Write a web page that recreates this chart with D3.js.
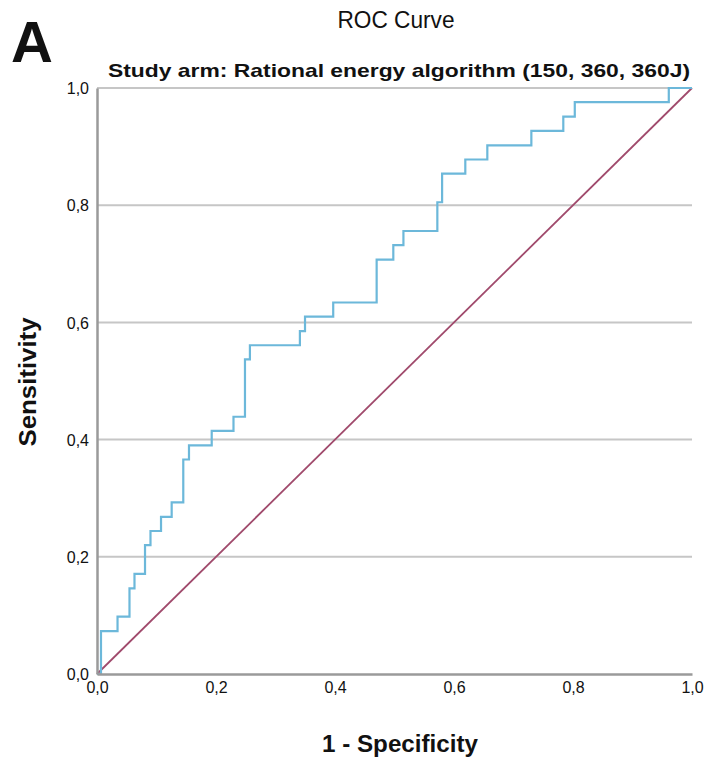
<!DOCTYPE html>
<html>
<head>
<meta charset="utf-8">
<script src="https://cdn.jsdelivr.net/npm/d3@7"></script>
<style>
  html, body { margin: 0; padding: 0; background: #fff; }
  svg text { font-family: "Liberation Sans", Arial, sans-serif; fill: #111; }
</style>
</head>
<body>
<svg id="chart" width="710" height="760"></svg>
<script>
// ---- data ----
const fpr = [0, 0.0067, 0.0345, 0.0546, 0.063, 0.0807, 0.0899, 0.1076, 0.1255, 0.145, 0.1546,
             0.1928, 0.2294, 0.2487, 0.257, 0.341, 0.3496, 0.397, 0.470, 0.498, 0.515,
             0.572, 0.580, 0.619, 0.656, 0.730, 0.7837, 0.803, 0.961, 1.0];
const tpr = [0, 0.073, 0.098, 0.146, 0.171, 0.220, 0.244, 0.268, 0.293, 0.366, 0.390,
             0.415, 0.439, 0.537, 0.561, 0.585, 0.610, 0.634, 0.707, 0.732, 0.756,
             0.805, 0.854, 0.878, 0.902, 0.927, 0.951, 0.976, 1.0, 1.0];
const refLine = [[0, 0], [1, 1]];
const tickValues = [0, 0.2, 0.4, 0.6, 0.8, 1.0];
const tickLabels = ["0,0", "0,2", "0,4", "0,6", "0,8", "1,0"];

const svg = d3.select("#chart");
const margin = {left: 97, right: 18, top: 88, bottom: 86};
const W = 710, H = 760;
const x = d3.scaleLinear().domain([0, 1]).range([margin.left, W - margin.right]);
const y = d3.scaleLinear().domain([0, 1]).range([H - margin.bottom, margin.top]);

// gridlines
svg.append("g")
  .selectAll("line").data(tickValues.slice(1)).join("line")
  .attr("x1", x(0)).attr("x2", x(1))
  .attr("y1", d => y(d)).attr("y2", d => y(d))
  .attr("stroke", "#c6c6c6").attr("stroke-width", 2);

// reference diagonal
svg.append("path")
  .datum(refLine)
  .attr("d", d3.line().x(d => x(d[0])).y(d => y(d[1])))
  .attr("fill", "none").attr("stroke", "#a04a6c").attr("stroke-width", 1.8);

// ROC curve
const pts = fpr.map((f, i) => [f, tpr[i]]);
svg.append("path")
  .datum(pts)
  .attr("d", d3.line().x(d => x(d[0])).y(d => y(d[1])).curve(d3.curveStepAfter))
  .attr("fill", "none").attr("stroke", "#6cb8da").attr("stroke-width", 2.2);

// axes
const fmt = (d) => tickLabels[tickValues.indexOf(d)];
const yAxis = svg.append("g").attr("transform", `translate(${x(0)},0)`)
  .call(d3.axisLeft(y).tickValues(tickValues).tickFormat(fmt).tickSize(0).tickPadding(8));
const xAxis = svg.append("g").attr("transform", `translate(0,${y(0)})`)
  .call(d3.axisBottom(x).tickValues(tickValues).tickFormat(fmt).tickSize(0).tickPadding(8));
[xAxis, yAxis].forEach(g => {
  g.select(".domain").attr("stroke", "#9a9a9a").attr("stroke-width", 2.5);
  g.selectAll("text").attr("font-size", 16).attr("fill", "#2a2a2a")
    .style("font-family", "'Liberation Sans', Arial, sans-serif");
});
yAxis.selectAll("text").attr("dy", "0.35em");

// titles
svg.append("text").attr("x", 396).attr("y", 28).attr("text-anchor", "middle")
  .attr("font-size", 24).attr("textLength", 117).attr("lengthAdjust", "spacingAndGlyphs")
  .text("ROC Curve");
svg.append("text").attr("x", 399).attr("y", 77).attr("text-anchor", "middle")
  .attr("font-size", 19).attr("font-weight", "bold")
  .attr("textLength", 582).attr("lengthAdjust", "spacingAndGlyphs")
  .text("Study arm: Rational energy algorithm (150, 360, 360J)");
svg.append("text").attr("x", 11).attr("y", 62)
  .attr("font-size", 58).attr("font-weight", "bold").text("A");

// axis titles
svg.append("text").attr("x", 400).attr("y", 752).attr("text-anchor", "middle")
  .attr("font-size", 24).attr("font-weight", "bold")
  .attr("textLength", 156).attr("lengthAdjust", "spacingAndGlyphs")
  .text("1 - Specificity");
svg.append("text").attr("transform", "translate(36,382) rotate(-90)")
  .attr("text-anchor", "middle").attr("font-size", 23).attr("font-weight", "bold")
  .attr("textLength", 129).attr("lengthAdjust", "spacingAndGlyphs")
  .text("Sensitivity");
</script>
</body>
</html>
